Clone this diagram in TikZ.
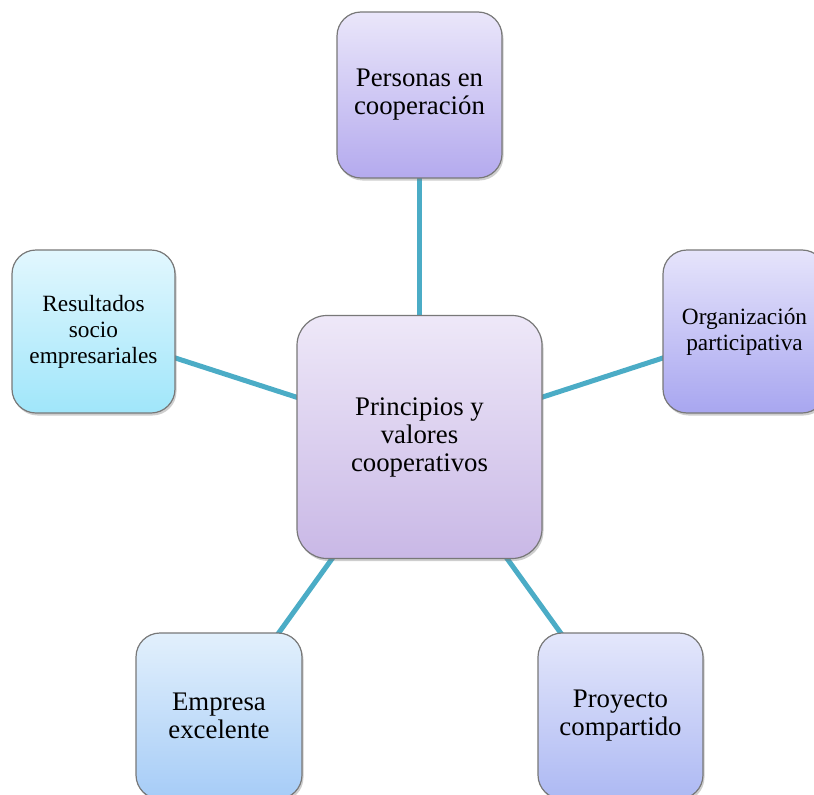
\documentclass[tikz,border=0pt]{standalone}
\usepackage{fontspec}
\setmainfont{Liberation Serif}
\usetikzlibrary{shadows}
\definecolor{conn}{RGB}{75,172,198}
\definecolor{edge}{RGB}{120,120,120}
\tikzset{
  box/.style={draw=edge, line width=1.2pt, rounded corners=24pt, align=center,
    inner sep=0pt, font=\fontsize{26.8}{28}\selectfont,
    drop shadow={shadow xshift=1.5pt, shadow yshift=-2.5pt, opacity=0.35, fill=black!55}},
  smallbox/.style={box, font=\fontsize{23.3}{26}\selectfont},
  link/.style={draw=conn, line width=5pt},
}
\begin{document}
\begin{tikzpicture}[x=1pt,y=-1pt]
\useasboundingbox (0,0) rectangle (814,795);
\clip (0,0) rectangle (814,795);
% connectors behind
\coordinate (cc) at (419.5,437);
\draw[link] (cc) -- (419.5,95);
\draw[link] (cc) -- (93.5,331.5);
\draw[link] (cc) -- (744.5,331.5);
\draw[link] (cc) -- (219,716);
\draw[link] (cc) -- (620.5,716);
% nodes
\node[box, minimum width=245pt, minimum height=243pt, rounded corners=30pt,
  top color={rgb,255:red,238;green,232;blue,248}, bottom color={rgb,255:red,201;green,184;blue,230}]
  (center) at (419.5,437) {Principios y\\valores\\cooperativos};
\node[box, minimum width=165pt, minimum height=166pt,
  top color={rgb,255:red,234;green,230;blue,250}, bottom color={rgb,255:red,180;green,170;blue,238}]
  (top) at (419.5,95) {Personas en\\cooperación};
\node[smallbox, minimum width=163pt, minimum height=163pt,
  top color={rgb,255:red,226;green,247;blue,254}, bottom color={rgb,255:red,160;green,230;blue,250}]
  (left) at (93.5,331.5) {Resultados\\socio\\empresariales};
\node[smallbox, minimum width=163pt, minimum height=163pt,
  top color={rgb,255:red,230;green,228;blue,251}, bottom color={rgb,255:red,168;green,166;blue,240}]
  (right) at (744.5,331.5) {Organización\\participativa};
\node[box, minimum width=166pt, minimum height=166pt,
  top color={rgb,255:red,226;green,240;blue,252}, bottom color={rgb,255:red,166;green,204;blue,247}]
  (bl) at (219,716) {Empresa\\excelente};
\node[box, minimum width=165pt, minimum height=166pt,
  top color={rgb,255:red,228;green,231;blue,251}, bottom color={rgb,255:red,173;green,185;blue,243}]
  (br) at (620.5,716) {Proyecto\\compartido};
\end{tikzpicture}
\end{document}
